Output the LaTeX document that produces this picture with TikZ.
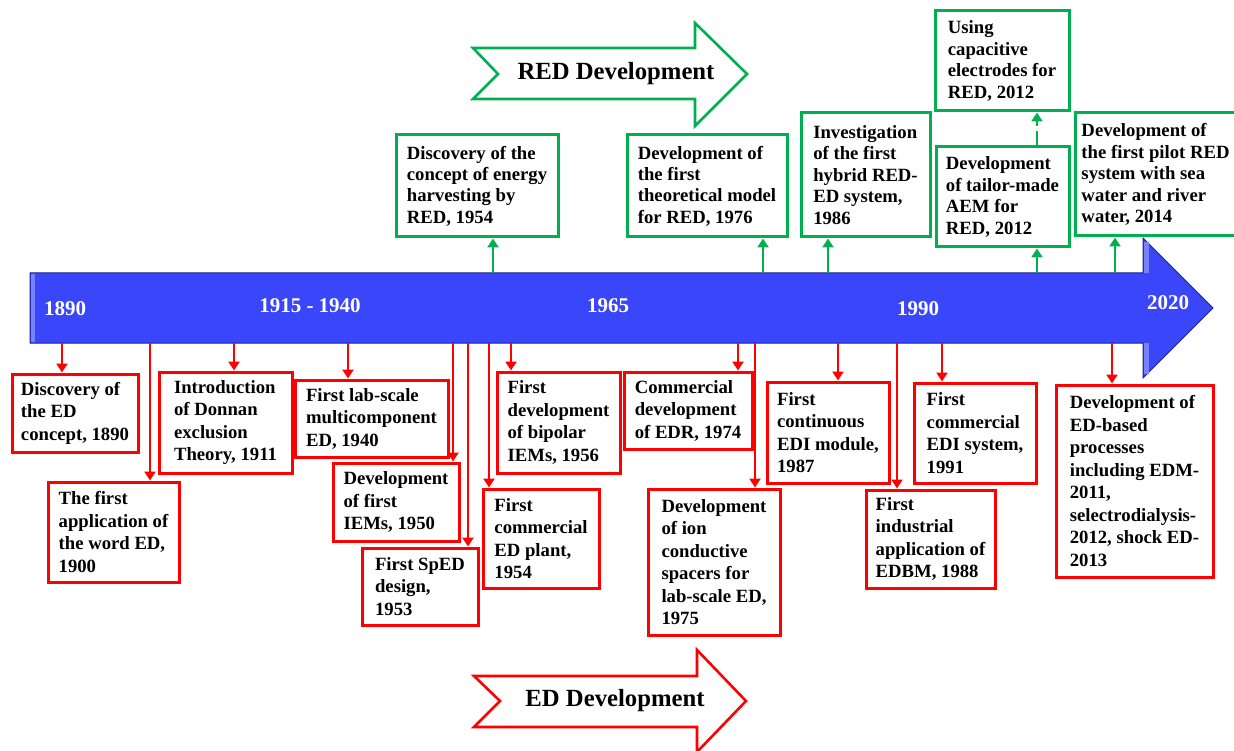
\documentclass[tikz,border=0pt]{standalone}
\usepackage{fontspec}
\setmainfont{Liberation Serif}
\usepackage{xcolor}
\usepackage{tikz}
\usetikzlibrary{
  arrows.meta
}

\definecolor{linegreen}{RGB}{0,176,80}
\definecolor{barblue}{RGB}{58,70,250}
\definecolor{bardark}{RGB}{28,34,140}
\definecolor{barlight}{RGB}{120,130,255}

\begin{document}
\begin{tikzpicture}[x=1pt, y=-1pt,
    every node/.style={font=\bfseries\fontsize{18.7}{22.5}\selectfont},
    redbox/.style={draw=red, line width=3pt, align=left, inner sep=0pt,
      font=\bfseries\fontsize{18.7}{22.5}\selectfont},
    grnbox/.style={draw=linegreen, line width=3pt, align=left, inner sep=0pt,
      font=\bfseries\fontsize{18.7}{21.4}\selectfont},
    boxdim/.style 2 args={minimum width=#1, minimum height=#2},
    redarr/.style={draw=red, line width=2.8pt, -{Triangle[width=11pt,length=9pt]}},
    grnarr/.style={draw=linegreen, line width=2.8pt, -{Triangle[width=11pt,length=9pt]}},
    yearlbl/.style={text=white, font=\bfseries\fontsize{21}{25}\selectfont},
    titlelbl/.style={font=\bfseries\fontsize{24.7}{29}\selectfont}
  ]
    \useasboundingbox (0,0) rectangle (1234,751);

    % Linha do tempo (seta azul)
    \filldraw[fill=barblue, draw=bardark, line width=1pt] (30,273) -- (1143,273) -- (1143,238) -- (1213,308) -- (1143,378) -- (1143,343) -- (30,343) -- cycle;
    \fill[barlight] (31,274) rectangle (35,342);
    \fill[barlight] (1144,242) rectangle (1149,273);
    \fill[barlight] (1144,343) rectangle (1149,374);
    \node[yearlbl] (y1890) at (65,309) {1890};
    \node[yearlbl] (y1915) at (310,306) {1915 - 1940};
    \node[yearlbl] (y1965) at (608,306) {1965};
    \node[yearlbl] (y1990) at (918,309) {1990};
    \node[yearlbl] (y2020) at (1168,303) {2020};

    % Pontos de saida na barra
    \foreach \name/\xx in {t1/493, t2/763, t3/828, t4/1037, t6/1115}
      \coordinate (\name) at (\xx,273);
    \foreach \name/\xx in {b1/62, b2/150, b3/234, b4/348, b5/453, b6/468, b7/489,
                           b8/511, b9/738, b10/755, b11/838, b12/897, b13/942, b14/1112}
      \coordinate (\name) at (\xx,343);

    % Seta RED Development
    \draw[draw=linegreen, line width=2.6pt, fill=white] (473,48) -- (695,48) -- (695,23) -- (747,74) -- (695,126) -- (695,99) -- (473,99) -- (498,74) -- cycle;
    \node[titlelbl] (redtitle) at (616,74) {RED Development};

    % Seta ED Development
    \draw[draw=red, line width=2.6pt, fill=white] (474,676) -- (697,676) -- (697,650) -- (746,701) -- (697,752) -- (697,727) -- (474,727) -- (500,701) -- cycle;
    \node[titlelbl] (edtitle) at (615,701) {ED Development};

    % Caixas RED (acima)
    \node[grnbox, boxdim={162pt}{102pt}] (g1) at (477,186) {Discovery of the\\concept of energy\\harvesting by\\RED, 1954};
    \node[grnbox, boxdim={160pt}{102pt}] (g2) at (707,186) {Development of\\the first\\theoretical model\\for RED, 1976};
    \node[grnbox, boxdim={129pt}{124pt}] (g3) at (865.5,175) {Investigation\\of the first\\hybrid RED-\\ED system,\\1986};
    \node[grnbox, boxdim={133pt}{100pt}] (g4) at (1002.5,197) {Development\\of tailor-made\\AEM for\\RED, 2012};
    \node[grnbox, boxdim={134pt}{100pt}] (g5) at (1002,61) {Using\\capacitive\\electrodes for\\RED, 2012};
    \node[grnbox, boxdim={161pt}{123pt}] (g6) at (1155.5,174.5) {Development of\\the first pilot RED\\system with sea\\water and river\\water, 2014};

    % Caixas ED (abaixo)
    \node[redbox, boxdim={126pt}{78pt}] (r1) at (75,413) {Discovery of\\the ED\\concept, 1890};
    \node[redbox, boxdim={131pt}{100pt}] (r2) at (113.5,532) {The first\\application of\\the word ED,\\1900};
    \node[redbox, boxdim={133pt}{101pt}] (r3) at (225.5,422.5) {Introduction\\of Donnan\\exclusion\\Theory, 1911};
    \node[redbox, boxdim={153pt}{77pt}] (r4) at (371.5,418.5) {First lab-scale\\multicomponent\\ED, 1940};
    \node[redbox, boxdim={126pt}{78pt}] (r5) at (396,502) {Development\\of first\\IEMs, 1950};
    \node[redbox, boxdim={116pt}{77pt}] (r6) at (420,586.5) {First SpED\\design,\\1953};
    \node[redbox, boxdim={116pt}{99pt}] (r7) at (541,538.5) {First\\commercial\\ED plant,\\1954};
    \node[redbox, boxdim={123pt}{101pt}] (r8) at (558.5,422.5) {First\\development\\of bipolar\\IEMs, 1956};
    \node[redbox, boxdim={128pt}{77pt}] (r9) at (688,410.5) {Commercial\\development\\of EDR, 1974};
    \node[redbox, boxdim={132pt}{146pt}] (r10) at (714,562) {Development\\of ion\\conductive\\spacers for\\lab-scale ED,\\1975};
    \node[redbox, boxdim={122pt}{101pt}] (r11) at (828,432.5) {First\\continuous\\EDI module,\\1987};
    \node[redbox, boxdim={129pt}{98pt}] (r12) at (930.5,539) {First\\industrial\\application of\\EDBM, 1988};
    \node[redbox, boxdim={122pt}{100pt}] (r13) at (975,433) {First\\commercial\\EDI system,\\1991};
    \node[redbox, boxdim={157pt}{192pt}] (r14) at (1134.5,481) {Development of\\ED-based\\processes\\including EDM-\\2011,\\selectrodialysis-\\2012, shock ED-\\2013};

    % Conectores verdes
    \foreach \from/\to in {t1/g1, t2/g2, t3/g3, t4/g4, t6/g6}
      \draw[grnarr] (\from) -- (\from |- \to.south);
    \draw[grnarr, dash pattern={on 14pt off 5pt}] (g4.north -| t4) -- (g5.south -| t4);

    % Conectores vermelhos
    \foreach \from/\to in {b1/r1, b2/r2, b3/r3, b4/r4, b5/r5, b6/r6, b7/r7,
                           b8/r8, b9/r9, b10/r10, b11/r11, b12/r12, b13/r13, b14/r14}
      \draw[redarr] (\from) -- (\from |- \to.north);
  \end{tikzpicture}
\end{document}
